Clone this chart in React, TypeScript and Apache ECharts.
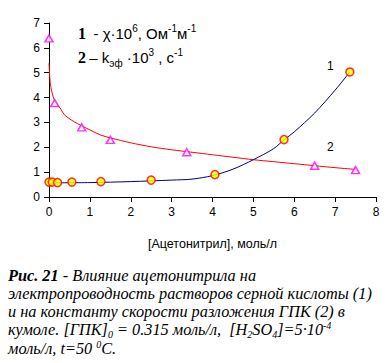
import React, { useEffect, useRef } from "react";
import * as echarts from "echarts";

// Series 1: conductivity χ·10^6 (circles)
const s1X = [0, 0.08, 0.21, 0.56, 1.27, 2.5, 4.06, 5.75, 7.36];
const s1Y = [0.6, 0.6, 0.58, 0.6, 0.62, 0.68, 0.9, 2.31, 5.03];
// Series 2: rate constant k·10^3 (triangles)
const s2X = [0, 0.14, 0.8, 1.5, 3.37, 6.5, 7.5];
const s2Y = [6.38, 3.78, 2.8, 2.3, 1.8, 1.26, 1.08];
// Fitted curves
const c1X = [0, 1, 2, 3, 3.5, 4.0, 4.5, 5.0, 5.5, 5.75, 6.0, 6.5, 7.0, 7.36];
const c1Y = [0.57, 0.58, 0.62, 0.68, 0.72, 0.86, 1.12, 1.5, 1.95, 2.3, 2.62, 3.38, 4.3, 5.03];
const c2X = [0, 0.03, 0.06, 0.1, 0.15, 0.27, 0.4, 0.7, 1.0, 1.25, 1.5, 2.0, 2.5, 3.0, 3.5, 4.0, 4.5, 5.0, 5.5, 6.0, 6.5, 7.0, 7.5];
const c2Y = [5.38, 4.6, 4.3, 4.05, 3.82, 3.58, 3.27, 2.95, 2.7, 2.5, 2.38, 2.18, 2.02, 1.9, 1.8, 1.7, 1.6, 1.5, 1.42, 1.34, 1.26, 1.18, 1.11];

const xTicks = [0, 1, 2, 3, 4, 5, 6, 7, 8];
const yTicks = [0, 1, 2, 3, 4, 5, 6, 7];
const xTitle = "[Ацетонитрил], моль/л";

const zip = (xs: number[], ys: number[]) => xs.map((x, i) => [x, ys[i]]);

const capFont = "'Liberation Serif', 'DejaVu Serif', serif";
const capBase = { fontFamily: capFont, fontStyle: "italic", fontSize: 16.3, color: "#000" };
const capRich = {
  b: { ...capBase, fontWeight: "bold" },
  n: { ...capBase },
  sub: { ...capBase, fontSize: 10, verticalAlign: "bottom", lineHeight: 19 },
  sup: { ...capBase, fontSize: 10, verticalAlign: "top", lineHeight: 19 },
};

const legFontSans = "'Liberation Sans', Arial, sans-serif";
const legRich = {
  b: { fontFamily: capFont, fontWeight: "bold", fontSize: 16, color: "#000", lineHeight: 21 },
  n: { fontFamily: legFontSans, fontSize: 15, color: "#000", lineHeight: 21 },
  sup: { fontFamily: legFontSans, fontSize: 10, color: "#000", verticalAlign: "top", lineHeight: 21 },
  sub: { fontFamily: legFontSans, fontSize: 10, color: "#000", verticalAlign: "bottom", lineHeight: 21 },
};

export default function App() {
  const ref = useRef<HTMLDivElement>(null);
  useEffect(() => {
    if (!ref.current) return;
    const chart = echarts.init(ref.current, null, { renderer: "svg" });
    const axisLabel = { color: "#000", fontFamily: legFontSans, fontSize: 12 };
    chart.setOption({
      animation: false,
      backgroundColor: "#fff",
      grid: { left: 49, right: 13, top: 23, bottom: 166 },
      xAxis: {
        type: "value",
        min: xTicks[0],
        max: xTicks[xTicks.length - 1],
        interval: 1,
        splitLine: { show: false },
        axisLine: { onZero: false, lineStyle: { color: "#000", width: 1 } },
        axisTick: { show: true, length: 5, lineStyle: { color: "#000" } },
        axisLabel: { ...axisLabel, margin: 9 },
        name: xTitle,
        nameLocation: "middle",
        nameGap: 40,
        nameTextStyle: { color: "#000", fontFamily: legFontSans, fontSize: 12.5 },
      },
      yAxis: {
        type: "value",
        min: yTicks[0],
        max: yTicks[yTicks.length - 1],
        interval: 1,
        splitLine: { show: false },
        axisLine: { show: true, onZero: false, lineStyle: { color: "#000", width: 1 } },
        axisTick: { show: true, length: 5, lineStyle: { color: "#000" } },
        axisLabel: { ...axisLabel, margin: 9 },
      },
      series: [
        {
          type: "line",
          data: zip(c2X, c2Y),
          smooth: 0.3,
          symbol: "none",
          lineStyle: { color: "#ff0000", width: 1 },
          z: 2,
        },
        {
          type: "line",
          data: zip(c1X, c1Y),
          smooth: 0.3,
          symbol: "none",
          lineStyle: { color: "#000080", width: 1 },
          z: 2,
        },
        {
          type: "scatter",
          data: zip(s2X, s2Y),
          symbol: "triangle",
          symbolSize: [8, 7],
          itemStyle: { color: "#fff", borderColor: "#ff00ff", borderWidth: 1.5 },
          z: 3,
        },
        {
          type: "scatter",
          data: zip(s1X, s1Y),
          symbol: "circle",
          symbolSize: 8,
          itemStyle: { color: "#ffff00", borderColor: "#ff0000", borderWidth: 1.5 },
          z: 4,
        },
      ],
      graphic: [
        {
          type: "text", left: 78, top: 23,
          style: {
            text: "{b|1} {n| - χ·10}{sup|6}{n|, Ом}{sup|-1}{n|м}{sup|-1}",
            rich: legRich,
          },
        },
        {
          type: "text", left: 78, top: 47,
          style: {
            text: "{b|2} {n|– k}{sub|эф}{n| ·10}{sup|3}{n| , с}{sup|-1}",
            rich: legRich,
          },
        },
        { type: "text", left: 327, top: 60, style: { text: "1", fontFamily: legFontSans, fontSize: 12, fill: "#000" } },
        { type: "text", left: 327, top: 141, style: { text: "2", fontFamily: legFontSans, fontSize: 12, fill: "#000" } },
        { type: "text", left: 8, top: 267, style: { text: "{b|Рис. 21}{n| - Влияние ацетонитрила на}", rich: capRich } },
        { type: "text", left: 8, top: 285, style: { text: "{n|электропроводность растворов серной кислоты (1)}", rich: capRich } },
        { type: "text", left: 8, top: 303, style: { text: "{n|и на константу скорости разложения ГПК (2) в}", rich: capRich } },
        { type: "text", left: 8, top: 320, style: { text: "{n|кумоле. [ГПК]}{sub|0}{n| = 0.315 моль/л,  [H}{sub|2}{n|SO}{sub|4}{n|]=5·10}{sup|-4}", rich: capRich } },
        { type: "text", left: 8, top: 339, style: { text: "{n|моль/л, t=50 }{sup|0}{n|C.}", rich: capRich } },
      ],
    });
    return () => chart.dispose();
  }, []);
  return (
    <div
      ref={ref}
      style={{ position: "fixed", left: 0, top: 0, width: 389, height: 363, background: "#fff" }}
    />
  );
}
